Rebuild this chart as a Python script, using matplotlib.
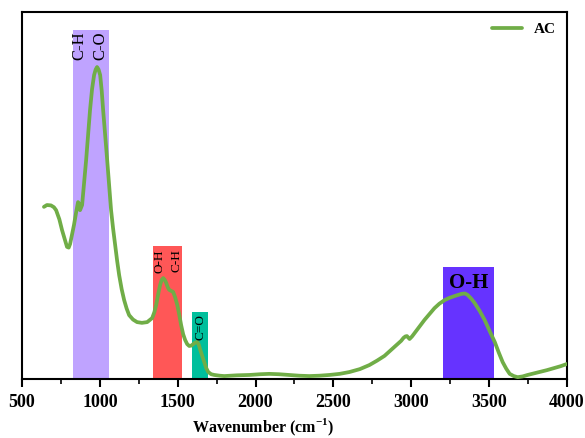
import matplotlib
matplotlib.use("Agg")
import matplotlib.pyplot as plt
import numpy as np

# FTIR spectrum of AC (arbitrary intensity 0..1)
wavenumber = [641, 660, 686, 705, 719, 740, 757, 775, 789, 800, 809, 822, 834, 848,
              860, 866, 873, 880, 886, 899, 912, 925, 937, 950, 963, 973, 982, 992,
              1002, 1012, 1021, 1034, 1047, 1060, 1072, 1085, 1098, 1111, 1124, 1140,
              1156, 1172, 1188, 1213, 1239, 1270, 1304, 1336, 1350, 1362, 1375, 1387,
              1397, 1407, 1417, 1426, 1436, 1445, 1458, 1471, 1484, 1497, 1510, 1522,
              1535, 1548, 1561, 1574, 1587, 1600, 1612, 1625, 1635, 1645, 1658, 1670,
              1683, 1696, 1715, 1735, 1770, 1799, 1880, 1960, 2030, 2088, 2150, 2217,
              2280, 2345, 2410, 2474, 2540, 2603, 2670, 2731, 2780, 2828, 2870, 2911,
              2935, 2950, 2962, 2972, 2989, 3005, 3021, 3053, 3085, 3117, 3149, 3180,
              3214, 3245, 3278, 3300, 3323, 3345, 3362, 3385, 3407, 3440, 3471, 3504,
              3536, 3562, 3587, 3610, 3632, 3658, 3683, 3715, 3747, 3785, 3824, 3870,
              3920, 3960, 4000]
intensity = [0.469, 0.474, 0.473, 0.468, 0.460, 0.435, 0.406, 0.380, 0.360, 0.358,
             0.368, 0.395, 0.420, 0.455, 0.482, 0.478, 0.460, 0.468, 0.474, 0.535,
             0.597, 0.668, 0.733, 0.790, 0.828, 0.843, 0.850, 0.843, 0.828, 0.785,
             0.733, 0.665, 0.597, 0.525, 0.460, 0.410, 0.365, 0.322, 0.283, 0.245,
             0.215, 0.192, 0.174, 0.162, 0.155, 0.153, 0.155, 0.166, 0.182, 0.202,
             0.232, 0.256, 0.270, 0.275, 0.270, 0.262, 0.250, 0.243, 0.240, 0.237,
             0.222, 0.202, 0.175, 0.147, 0.122, 0.106, 0.095, 0.090, 0.091, 0.095,
             0.099, 0.101, 0.094, 0.079, 0.062, 0.046, 0.030, 0.019, 0.013, 0.011,
             0.009, 0.008, 0.010, 0.011, 0.013, 0.014, 0.013, 0.011, 0.009, 0.008,
             0.009, 0.011, 0.014, 0.019, 0.027, 0.038, 0.050, 0.063, 0.079, 0.095,
             0.104, 0.112, 0.116, 0.117, 0.109, 0.116, 0.125, 0.143, 0.161, 0.177,
             0.193, 0.205, 0.215, 0.221, 0.226, 0.229, 0.232, 0.233, 0.229, 0.219,
             0.207, 0.185, 0.161, 0.130, 0.101, 0.072, 0.046, 0.028, 0.014, 0.008,
             0.005, 0.007, 0.011, 0.015, 0.019, 0.024, 0.030, 0.035, 0.041]

# highlighted bands: left edge, right edge, height, colour
band_left = [828, 1343, 1594, 3203]
band_right = [1060, 1530, 1697, 3531]
band_top = [0.951, 0.362, 0.183, 0.305]
band_colors = ["#BFA3FF", "#FF5757", "#00BF9C", "#6633FF"]

plt.rcParams['font.family'] = ['Liberation Serif', 'DejaVu Serif']
plt.rcParams['mathtext.fontset'] = 'custom'
plt.rcParams['mathtext.bf'] = 'Liberation Serif:bold'
plt.rcParams['mathtext.rm'] = 'Liberation Serif'

fig = plt.figure(figsize=(5.85, 4.38), dpi=100)
ax = fig.add_axes([0.0376, 0.1347, 0.9316, 0.838])

ax.bar(band_left, band_top, width=np.array(band_right) - np.array(band_left),
       align='edge', color=band_colors, zorder=1)

ax.plot(wavenumber, intensity, color="#70AD47", lw=2.7, label="AC", zorder=3,
        solid_joinstyle='round', solid_capstyle='round')

# band labels
ax.text(866, 0.948, "C-H", rotation=90, ha='center', va='top', fontsize=12, zorder=4)
ax.text(1001, 0.948, "C-O", rotation=90, ha='center', va='top', fontsize=12, zorder=4)
ax.text(1381, 0.353, "O-H", rotation=90, ha='center', va='top', fontsize=9.5, zorder=4)
ax.text(1490, 0.353, "C-H", rotation=90, ha='center', va='top', fontsize=9.5, zorder=4)
ax.text(1645, 0.176, "C=O", rotation=90, ha='center', va='top', fontsize=9.5, zorder=4)
ax.text(3367, 0.262, "O-H", ha='center', va='center', fontsize=15, fontweight='bold', zorder=4)

ax.set_xlim(500, 4000)
ax.set_ylim(0, 1)
ax.set_xticks(np.arange(500, 4001, 500))
ax.set_xticks(np.arange(750, 4000, 500), minor=True)
ax.set_yticks([])
ax.tick_params(axis='x', which='major', direction='out', length=6, width=1.5, labelsize=13, pad=5)
ax.tick_params(axis='x', which='minor', direction='out', length=3.5, width=1.2)
for lab in ax.get_xticklabels():
    lab.set_fontweight('bold')
for sp in ax.spines.values():
    sp.set_linewidth(1.5)

ax.set_xlabel("Wavenumber (cm$^{\\mathbf{-1}}$)", fontsize=11.5, fontweight='bold')
ax.xaxis.set_label_coords(0.442, -0.102)

leg = ax.legend(loc='upper right', frameon=False, handlelength=2.0,
                borderaxespad=0.3, prop={'weight': 'bold', 'size': 11})

fig.savefig("out.png", dpi=100)
